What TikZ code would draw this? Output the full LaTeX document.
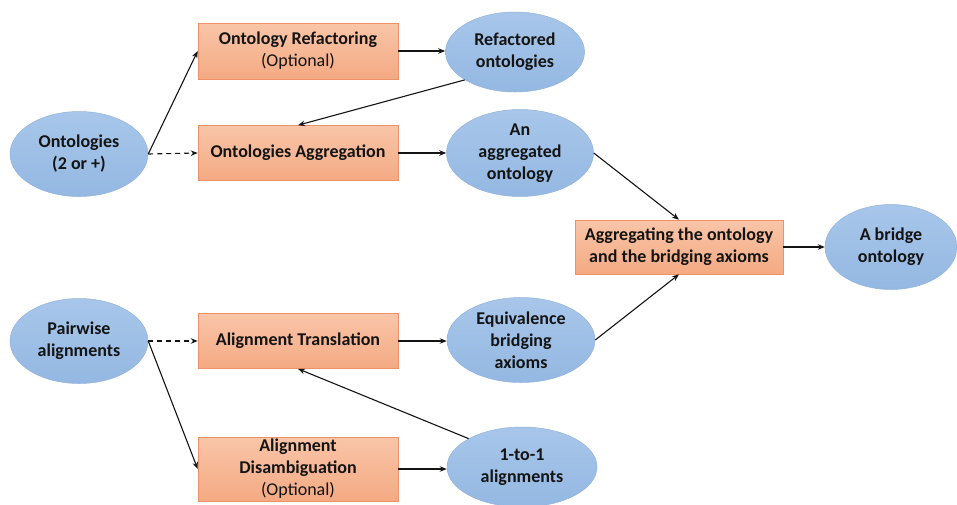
\documentclass[tikz,border=0pt]{standalone}
\usepackage{fontspec}
\setmainfont{Carlito}
\usetikzlibrary{arrows.meta,shapes.geometric}
\definecolor{inkc}{RGB}{20,20,20}
\definecolor{boxtop}{RGB}{249,197,168}
\definecolor{boxbot}{RGB}{244,170,131}
\definecolor{boxedge}{RGB}{236,146,104}
\definecolor{elltop}{RGB}{168,198,234}
\definecolor{ellbot}{RGB}{148,184,226}
\definecolor{elledge}{RGB}{146,179,218}
\begin{document}
\begin{tikzpicture}[x=1pt,y=-1pt,
  every node/.style={font=\fontsize{18}{22}\selectfont\bfseries, align=center, text=inkc},
  procbox/.style={rectangle, draw=boxedge, line width=0.6pt,
    top color=boxtop, bottom color=boxbot,
    minimum width=200pt, minimum height=55pt, inner sep=2pt},
  datanode/.style={ellipse, draw=elledge, line width=0.5pt,
    top color=elltop, bottom color=ellbot, inner sep=0pt},
  flow/.style={-{Stealth[length=7pt,width=5.5pt]}, line width=1.1pt, inkc},
  weak/.style={flow, dash pattern=on 5pt off 4pt}
]
\useasboundingbox (0,0) rectangle (957,504);

% inputs
\node[datanode, minimum width=138pt, minimum height=85pt,
      label={center:{Ontologies\\(2 or +)}}] (onts) at (79,154) {};
\node[datanode, minimum width=138pt, minimum height=85pt,
      label={center:{Pairwise\\alignments}}] (pairs) at (79,341) {};

% processing steps
\node[procbox, minimum height=56pt] (refac) at (298,51) {Ontology Refactoring\\{\mdseries(Optional)}};
\node[procbox] (aggr) at (298,153) {Ontologies Aggregation};
\node[procbox] (trans) at (298,341) {Alignment Translation};
\node[procbox, minimum height=64pt] (disamb) at (298,469) {Alignment\\Disambiguation\\{\mdseries(Optional)}};
\node[procbox, minimum width=208pt, minimum height=54pt] (final) at (679,247) {Aggregating the ontology\\and the bridging axioms};

% intermediate and final results
\node[datanode, minimum width=139pt, minimum height=80pt,
      label={center:{Refactored\\ontologies}}] (refd) at (515,52) {};
\node[datanode, minimum width=147pt, minimum height=87pt,
      label={center:{An\\aggregated\\ontology}}] (aggd) at (520,153) {};
\node[datanode, minimum width=148pt, minimum height=85pt,
      label={center:{Equivalence\\bridging\\axioms}}] (equiv) at (521,340) {};
\node[datanode, minimum width=150pt, minimum height=80pt,
      label={center:{1-to-1\\alignments}}] (one) at (522,467) {};
\node[datanode, minimum width=132pt, minimum height=85pt,
      label={center:{A bridge\\ontology}}] (bridge) at (891,247) {};

% connectors
\draw[flow] (onts.east) -- (refac.west);
\draw[weak] (onts.east) -- (aggr.west);
\draw[flow] (refac.east) -- (refac.east -| refd.west);
\draw[flow] (refd.209) -- (aggr.north);
\draw[flow] (aggr.east) -- (aggr.east -| aggd.west);
\draw[flow] (aggd.east) -- (final.north);
\draw[flow] (equiv.east) -- (final.south);
\draw[flow] (final.east) -- (bridge.west);
\draw[weak] (pairs.east) -- (trans.west);
\draw[flow] (pairs.east) -- (disamb.west);
\draw[flow] (trans.east) -- (trans.east -| equiv.west);
\draw[flow] (disamb.east) -- (disamb.east -| one.west);
\draw[flow] (one.152) -- (trans.south);
\end{tikzpicture}
\end{document}
